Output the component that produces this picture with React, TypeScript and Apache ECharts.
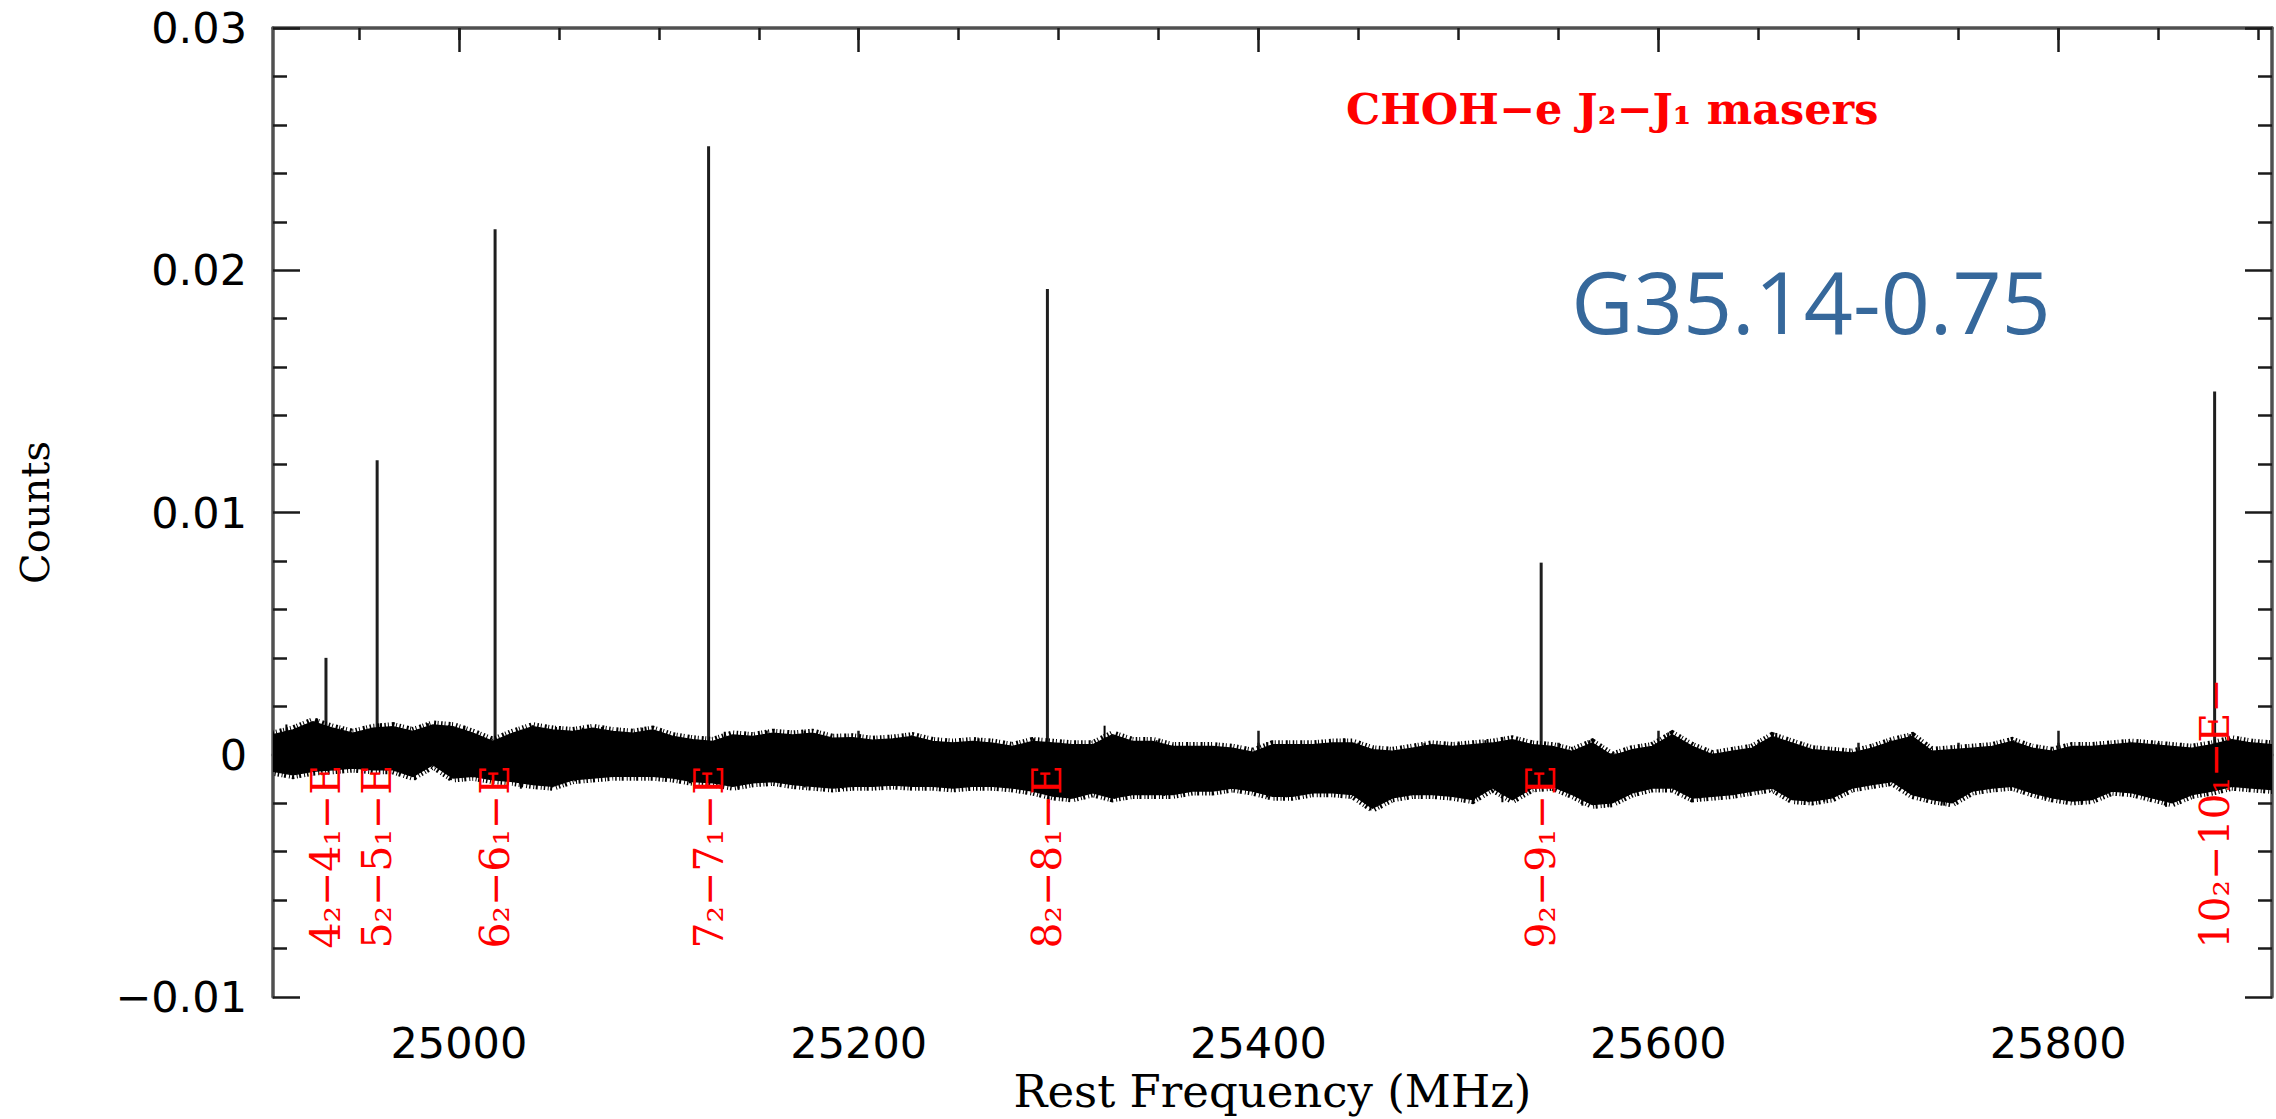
import React, { useEffect, useRef } from "react";
import * as echarts from "echarts";

// ---- axis ticks ----
const xMajorTicks = [25000, 25200, 25400, 25600, 25800];
const xMinorTicks = [24950, 25000, 25050, 25100, 25150, 25200, 25250, 25300, 25350, 25400, 25450, 25500, 25550, 25600, 25650, 25700, 25750, 25800, 25850, 25900];
const yTickValues = [-0.01, 0, 0.01, 0.02, 0.03];
const yTickLabels = ["\u22120.01", "0", "0.01", "0.02", "0.03"];

// ---- maser lines (MHz, counts) ----
const lineFreqs = [24933.5, 24959.1, 25018.1, 25124.9, 25294.4, 25541.4, 25878.3];
const linePeaks = [0.0040, 0.01216, 0.02169, 0.02512, 0.01923, 0.00793, 0.01499];
const lineLabels = ["4\u2082\u22124\u2081\u2212E", "5\u2082\u22125\u2081\u2212E", "6\u2082\u22126\u2081\u2212E", "7\u2082\u22127\u2081\u2212E", "8\u2082\u22128\u2081\u2212E", "9\u2082\u22129\u2081\u2212E", "10\u2082\u221210\u2081\u2212E\u2212"];
const labelBaseValue = -0.0080;

// ---- noise band envelope ----
const bandFreq = [
  24907, 24917, 24927, 24937, 24947, 24957, 24967, 24977, 24987, 24997,
  25007, 25017, 25027, 25037, 25047, 25057, 25067, 25077, 25087, 25097,
  25107, 25117, 25127, 25137, 25147, 25157, 25167, 25177, 25187, 25197,
  25207, 25217, 25227, 25237, 25247, 25257, 25267, 25277, 25287, 25297,
  25307, 25317, 25327, 25337, 25347, 25357, 25367, 25377, 25387, 25397,
  25407, 25417, 25427, 25437, 25447, 25457, 25467, 25477, 25487, 25497,
  25507, 25517, 25527, 25537, 25547, 25557, 25567, 25577, 25587, 25597,
  25607, 25617, 25627, 25637, 25647, 25657, 25667, 25677, 25687, 25697,
  25707, 25717, 25727, 25737, 25747, 25757, 25767, 25777, 25787, 25797,
  25807, 25817, 25827, 25837, 25847, 25857, 25867, 25877, 25887, 25897,
  25907,
];
const bandTop = [
  0.00082, 0.00102, 0.00136, 0.00109, 0.00089, 0.00109, 0.00116, 0.00096, 0.00123, 0.00116,
  0.00089, 0.00055, 0.00089, 0.00116, 0.00102, 0.00096, 0.00109, 0.00096, 0.00089, 0.00102,
  0.00075, 0.00062, 0.00055, 0.00082, 0.00075, 0.00089, 0.00082, 0.00089, 0.00068, 0.00070,
  0.00060, 0.00065, 0.00075, 0.00055, 0.00048, 0.00055, 0.00048, 0.00034, 0.00055, 0.00048,
  0.00041, 0.00041, 0.00082, 0.00055, 0.00055, 0.00034, 0.00034, 0.00034, 0.00027, 0.00010,
  0.00041, 0.00041, 0.00041, 0.00048, 0.00048, 0.00021, 0.00014, 0.00027, 0.00041, 0.00034,
  0.00041, 0.00048, 0.00062, 0.00041, 0.00034, 0.00014, 0.00048, -0.00005, 0.00021, 0.00034,
  0.00082, 0.00034, 0.00000, 0.00014, 0.00027, 0.00075, 0.00048, 0.00021, 0.00014, 0.00007,
  0.00027, 0.00055, 0.00075, 0.00014, 0.00021, 0.00027, 0.00034, 0.00055, 0.00027, 0.00014,
  0.00034, 0.00034, 0.00041, 0.00048, 0.00041, 0.00034, 0.00027, 0.00041, 0.00062, 0.00048,
  0.00041,
];
const bandBottom = [
  -0.00068, -0.00082, -0.00068, -0.00062, -0.00055, -0.00062, -0.00062, -0.00089, -0.00041, -0.00096,
  -0.00089, -0.00103, -0.00110, -0.00123, -0.00130, -0.00103, -0.00096, -0.00089, -0.00089, -0.00089,
  -0.00096, -0.00110, -0.00116, -0.00130, -0.00116, -0.00110, -0.00123, -0.00130, -0.00137, -0.00130,
  -0.00130, -0.00125, -0.00130, -0.00130, -0.00137, -0.00130, -0.00130, -0.00137, -0.00150, -0.00170,
  -0.00178, -0.00157, -0.00178, -0.00164, -0.00164, -0.00164, -0.00150, -0.00150, -0.00137, -0.00150,
  -0.00171, -0.00171, -0.00157, -0.00157, -0.00164, -0.00220, -0.00178, -0.00164, -0.00164, -0.00171,
  -0.00185, -0.00137, -0.00185, -0.00137, -0.00130, -0.00164, -0.00205, -0.00198, -0.00157, -0.00137,
  -0.00137, -0.00178, -0.00171, -0.00164, -0.00150, -0.00137, -0.00185, -0.00191, -0.00178, -0.00137,
  -0.00123, -0.00110, -0.00164, -0.00185, -0.00198, -0.00150, -0.00137, -0.00130, -0.00157, -0.00178,
  -0.00191, -0.00185, -0.00150, -0.00157, -0.00178, -0.00198, -0.00164, -0.00150, -0.00130, -0.00137,
  -0.00143,
];

// ---- isolated noise whiskers poking out of the band ----
const whiskerUpFreq = [24913.7, 24929, 24935, 24941.4, 24961, 24984.5, 24995, 25002.7, 25037, 25048.6, 25062, 25071.6, 25091.7, 25101, 25133, 25154, 25173, 25226.4, 25260, 25287.7, 25323, 25331.7, 25349, 25404.4, 25442.7, 25483, 25513.5, 25522, 25565.6, 25605, 25659, 25715.8, 25726, 25777.7, 25835.7, 25885.8];
const whiskerUpTop = [0.00125, 0.0015, 0.00115, 0.0011, 0.0013, 0.0013, 0.00122, 0.0012, 0.00122, 0.00115, 0.00112, 0.00115, 0.00112, 0.001, 0.00095, 0.001, 0.001, 0.0008, 0.00068, 0.00068, 0.0012, 0.0006, 0.0006, 0.00052, 0.00068, 0.00048, 0.0006, 0.00072, 0.0006, 0.00092, 0.0009, 0.0006, 0.00085, 0.0006, 0.00055, 0.00068];
const whiskerDownFreq = [24978, 24996, 25031, 25046.7, 25058.2, 25115.6, 25140, 25173, 25192, 25295, 25306, 25328, 25352.8, 25404.4, 25414, 25456, 25507.8, 25522, 25562, 25575, 25621, 25675, 25683, 25743, 25793.6, 25812, 25854];
const whiskerDownBottom = [-0.00105, -0.00105, -0.0014, -0.00135, -0.0011, -0.00118, -0.0014, -0.00135, -0.00142, -0.002, -0.00182, -0.00182, -0.0017, -0.00176, -0.00176, -0.0023, -0.0019, -0.00196, -0.0021, -0.00215, -0.00182, -0.00196, -0.00194, -0.0021, -0.00182, -0.00202, -0.00215];

const X_MIN = 24907;
const X_MAX = 25907;

const AXIS_LINE = { show: true, lineStyle: { color: "#505050", width: 3.5 } };
const TICK_STYLE = { color: "#1a1a1a", width: 2.5 };

function xAxisDef(position: "top" | "bottom", major: boolean, withLabels: boolean): any {
  return {
    type: "value",
    position,
    min: X_MIN,
    max: X_MAX,
    axisLine: major ? AXIS_LINE : { show: false },
    axisTick: {
      show: true,
      inside: true,
      length: major ? 24 : 12,
      customValues: major ? xMajorTicks : xMinorTicks,
      lineStyle: TICK_STYLE,
    },
    minorTick: { show: false },
    splitLine: { show: false },
    axisLabel: withLabels
      ? {
          show: true,
          customValues: xMajorTicks,
          margin: 24,
          color: "#000",
          fontFamily: "DejaVu Sans",
          fontSize: 43,
          formatter: (v: number) => String(v),
        }
      : { show: false },
    name: withLabels ? "Rest Frequency (MHz)" : "",
    nameLocation: "middle",
    nameGap: 72,
    nameTextStyle: { fontFamily: "DejaVu Serif", fontSize: 45, color: "#000" },
  };
}

function yAxisDef(position: "left" | "right", withLabels: boolean): any {
  return {
    type: "value",
    position,
    min: -0.01,
    max: 0.03,
    interval: 0.01,
    axisLine: AXIS_LINE,
    axisTick: { show: true, inside: true, length: 27, lineStyle: TICK_STYLE },
    minorTick: { show: true, splitNumber: 5, length: 14, lineStyle: TICK_STYLE },
    splitLine: { show: false },
    minorSplitLine: { show: false },
    axisLabel: withLabels
      ? {
          show: true,
          margin: 26,
          color: "#000",
          fontFamily: "DejaVu Sans",
          fontSize: 43,
          formatter: (v: number) => {
            const i = yTickValues.findIndex((t) => Math.abs(t - v) < 1e-9);
            return i >= 0 ? yTickLabels[i] : "";
          },
        }
      : { show: false },
    name: withLabels ? "Counts" : "",
    nameLocation: "middle",
    nameGap: 218,
    nameTextStyle: { fontFamily: "DejaVu Serif", fontSize: 40, color: "#000" },
  };
}

function vLine(api: any, f: number, a: number, b: number, width: number, color: string) {
  const p0 = api.coord([f, a]);
  const p1 = api.coord([f, b]);
  return {
    type: "line",
    shape: { x1: p0[0], y1: p0[1], x2: p1[0], y2: p1[1] },
    style: { stroke: color, lineWidth: width },
  };
}

export default function App() {
  const ref = useRef<HTMLDivElement>(null);

  useEffect(() => {
    if (!ref.current) return;
    const chart = echarts.init(ref.current, undefined, { renderer: "svg" });

    const option: any = {
      animation: false,
      backgroundColor: "#ffffff",
      grid: { left: 273, top: 28, width: 1999, height: 976, containLabel: false },
      xAxis: [
        xAxisDef("bottom", true, true),
        xAxisDef("bottom", false, false),
        xAxisDef("top", true, false),
        xAxisDef("top", false, false),
      ],
      yAxis: [yAxisDef("left", true), yAxisDef("right", false)],
      graphic: [
        {
          type: "text",
          x: 1346,
          y: 109,
          z: 10,
          style: {
            text: "CHOH\u2212e J\u2082\u2212J\u2081 masers",
            fill: "#ff0000",
            font: 'bold 43px "DejaVu Serif"',
            align: "left",
            verticalAlign: "middle",
          },
        },
        {
          type: "text",
          x: 1811,
          y: 300,
          z: 10,
          style: {
            text: "G35.14-0.75",
            fill: "#36689b",
            font: '86px "Open Sans"',
            align: "center",
            verticalAlign: "middle",
          },
        },
      ],
      series: [
        {
          type: "custom",
          name: "spikes",
          xAxisIndex: 0,
          yAxisIndex: 0,
          z: 3,
          silent: true,
          clip: true,
          data: lineFreqs.map((f, i) => [f, linePeaks[i]]),
          renderItem: (params: any, api: any) =>
            vLine(api, api.value(0), 0, api.value(1), 3, "#1e1e1e"),
        },
        {
          type: "custom",
          name: "noise",
          xAxisIndex: 0,
          yAxisIndex: 0,
          z: 4,
          silent: true,
          clip: true,
          data: [[bandFreq[0], bandTop[0]]],
          renderItem: (params: any, api: any) => {
            const pts: number[][] = [];
            for (let i = 0; i < bandFreq.length; i++) pts.push(api.coord([bandFreq[i], bandTop[i]]));
            for (let i = bandFreq.length - 1; i >= 0; i--) pts.push(api.coord([bandFreq[i], bandBottom[i]]));
            return {
              type: "group",
              children: [
                {
                  type: "polygon",
                  shape: { points: pts },
                  style: { fill: "#000", stroke: "#000", lineWidth: 1.5 },
                },
                {
                  type: "polygon",
                  shape: { points: pts },
                  style: {
                    fill: "none",
                    stroke: "#000",
                    lineWidth: 9,
                    lineDash: [1.5, 2, 1, 3, 2, 1.5, 1, 2.5],
                  },
                },
              ],
            };
          },
        },
        {
          type: "custom",
          name: "whiskersUp",
          xAxisIndex: 0,
          yAxisIndex: 0,
          z: 4,
          silent: true,
          clip: true,
          data: whiskerUpFreq.map((f, i) => [f, whiskerUpTop[i]]),
          renderItem: (params: any, api: any) => vLine(api, api.value(0), 0, api.value(1), 2, "#000"),
        },
        {
          type: "custom",
          name: "whiskersDown",
          xAxisIndex: 0,
          yAxisIndex: 0,
          z: 4,
          silent: true,
          clip: true,
          data: whiskerDownFreq.map((f, i) => [f, whiskerDownBottom[i]]),
          renderItem: (params: any, api: any) => vLine(api, api.value(0), 0, api.value(1), 2, "#000"),
        },
        {
          type: "custom",
          name: "labels",
          xAxisIndex: 0,
          yAxisIndex: 0,
          z: 6,
          silent: true,
          clip: false,
          data: lineFreqs.map((f) => [f, labelBaseValue]),
          renderItem: (params: any, api: any) => {
            const p = api.coord([api.value(0), api.value(1)]);
            return {
              type: "text",
              x: p[0],
              y: p[1],
              rotation: Math.PI / 2,
              style: {
                text: lineLabels[params.dataIndex],
                fill: "#ff0000",
                font: '41px "DejaVu Serif"',
                align: "left",
                verticalAlign: "middle",
              },
            };
          },
        },
      ],
    };

    chart.setOption(option);
    return () => chart.dispose();
  }, []);

  return (
    <div
      ref={ref}
      style={{ position: "absolute", left: 0, top: 0, width: 2276, height: 1119, background: "#fff" }}
    />
  );
}
